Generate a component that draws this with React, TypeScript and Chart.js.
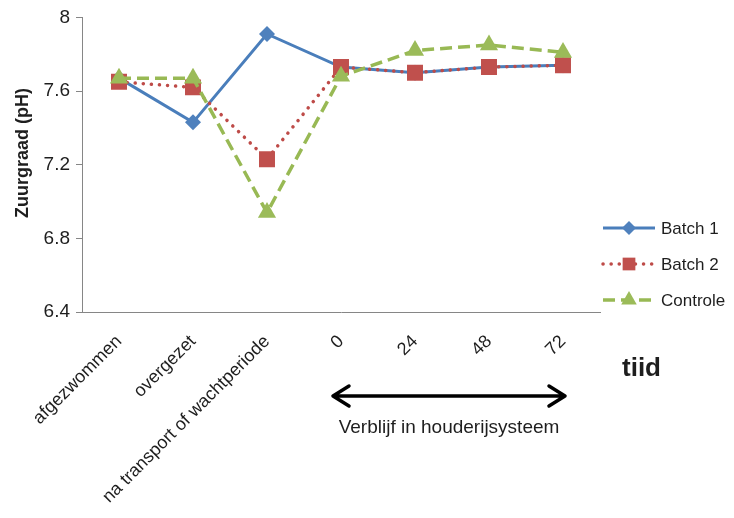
import { useEffect, useRef } from "react";
import { Chart, registerables } from "chart.js";

Chart.register(...registerables);

// Meetmomenten en zuurgraad per groep
const categories = ["afgezwommen", "overgezet", "na transport of wachtperiode", "0", "24", "48", "72"];
const batch1 = [7.67, 7.43, 7.91, 7.73, 7.7, 7.73, 7.74];
const batch2 = [7.65, 7.62, 7.23, 7.73, 7.7, 7.73, 7.74];
const controle = [7.67, 7.67, 6.94, 7.68, 7.82, 7.85, 7.81];
const yTicks = [6.4, 6.8, 7.2, 7.6, 8];

const yTitle = "Zuurgraad (pH)";
const xTitle = "tiid";
const spanCaption = "Verblijf in houderijsysteem";
const spanStart = "0";
const spanEnd = "72";

const FONT = "'Liberation Sans', Arial, sans-serif";
const AXIS = "#868686";
const TEXT = "#1e1e1e";

function drawMarker(ctx: CanvasRenderingContext2D, style: string, x: number, y: number, r: number, color: string) {
  ctx.save();
  ctx.fillStyle = color;
  ctx.beginPath();
  if (style === "rectRot") {
    ctx.moveTo(x - r, y);
    ctx.lineTo(x, y - r);
    ctx.lineTo(x + r, y);
    ctx.lineTo(x, y + r);
  } else if (style === "rect") {
    const s = r * Math.SQRT1_2;
    ctx.rect(x - s, y - s, 2 * s, 2 * s);
  } else {
    for (let k = 0; k < 3; k++) {
      const a = (k * 2 * Math.PI) / 3;
      const px = x + Math.sin(a) * r;
      const py = y - Math.cos(a) * r;
      if (k === 0) ctx.moveTo(px, py);
      else ctx.lineTo(px, py);
    }
  }
  ctx.closePath();
  ctx.fill();
  ctx.restore();
}

// Legend with line sample + marker, and the extra annotations beside/below the axes
const annotations = {
  id: "annotations",
  afterDraw(chart: any) {
    const { ctx, chartArea } = chart;
    const xs = chart.scales.x;
    ctx.save();

    // y-axis title
    ctx.save();
    ctx.translate(23, 153);
    ctx.rotate(-Math.PI / 2);
    ctx.font = `bold 18px ${FONT}`;
    ctx.fillStyle = TEXT;
    ctx.textAlign = "center";
    ctx.textBaseline = "middle";
    ctx.fillText(yTitle, 0, 0);
    ctx.restore();

    // "tiid"
    ctx.font = `bold 26px ${FONT}`;
    ctx.fillStyle = TEXT;
    ctx.textAlign = "left";
    ctx.textBaseline = "alphabetic";
    ctx.fillText(xTitle, chartArea.right + 22, 376);

    // double arrow spanning the stay period
    const i0 = categories.indexOf(spanStart);
    const i1 = categories.indexOf(spanEnd);
    const ax0 = xs.getPixelForValue(i0) - 8;
    const ax1 = xs.getPixelForValue(i1) + 2;
    const ay = 396;
    ctx.strokeStyle = "#000";
    ctx.lineWidth = 3.5;
    ctx.lineCap = "round";
    ctx.lineJoin = "round";
    ctx.beginPath();
    ctx.moveTo(ax0, ay);
    ctx.lineTo(ax1, ay);
    ctx.moveTo(ax0 + 16, ay - 10);
    ctx.lineTo(ax0, ay);
    ctx.lineTo(ax0 + 16, ay + 10);
    ctx.moveTo(ax1 - 16, ay - 10);
    ctx.lineTo(ax1, ay);
    ctx.lineTo(ax1 - 16, ay + 10);
    ctx.stroke();

    ctx.font = `19px ${FONT}`;
    ctx.textAlign = "center";
    ctx.textBaseline = "middle";
    ctx.fillText(spanCaption, (ax0 + ax1) / 2, 428);

    // legend
    const rows = [228, 264, 300];
    const lx0 = chartArea.right + 3;
    const lx1 = chartArea.right + 55;
    chart.data.datasets.forEach((ds: any, i: number) => {
      const y = rows[i];
      ctx.save();
      ctx.strokeStyle = ds.borderColor;
      ctx.lineWidth = ds.borderWidth;
      ctx.lineCap = ds.borderCapStyle || "butt";
      ctx.setLineDash(ds.borderDash || []);
      ctx.beginPath();
      ctx.moveTo(lx0, y);
      ctx.lineTo(lx1, y);
      ctx.stroke();
      ctx.restore();
      const r = ds.pointStyle === "rectRot" ? 7 : 9;
      drawMarker(ctx, ds.pointStyle, (lx0 + lx1) / 2, y, r, ds.pointBackgroundColor);
      ctx.font = `17px ${FONT}`;
      ctx.fillStyle = TEXT;
      ctx.textAlign = "left";
      ctx.textBaseline = "middle";
      ctx.fillText(ds.label, chartArea.right + 61, y + 1);
    });

    ctx.restore();
  },
};

export default function App() {
  const ref = useRef<HTMLCanvasElement | null>(null);

  useEffect(() => {
    if (!ref.current) return;
    const chart = new Chart(ref.current, {
      type: "line",
      data: {
        labels: categories,
        datasets: [
          {
            label: "Batch 1",
            data: batch1,
            borderColor: "#4A7EBB",
            backgroundColor: "#4F81BD",
            borderWidth: 3,
            pointStyle: "rectRot",
            pointRadius: 8,
            pointBackgroundColor: "#4F81BD",
            pointBorderColor: "#4F81BD",
            pointBorderWidth: 0,
            order: 2,
          },
          {
            label: "Batch 2",
            data: batch2,
            borderColor: "#BE4B48",
            backgroundColor: "#C0504D",
            borderWidth: 3.5,
            borderDash: [0.1, 8],
            borderCapStyle: "round",
            pointStyle: "rect",
            pointRadius: 11.3,
            pointBackgroundColor: "#C0504D",
            pointBorderColor: "#C0504D",
            pointBorderWidth: 0,
            order: 1,
          },
          {
            label: "Controle",
            data: controle,
            borderColor: "#98B954",
            backgroundColor: "#9BBB59",
            borderWidth: 3.5,
            borderDash: [12, 6],
            pointStyle: "triangle",
            pointRadius: 10.5,
            pointBackgroundColor: "#9BBB59",
            pointBorderColor: "#9BBB59",
            pointBorderWidth: 0,
            order: 0,
          },
        ] as any,
      },
      options: {
        animation: false,
        responsive: false,
        devicePixelRatio: 1,
        layout: { padding: { left: 0, top: 17, right: 134, bottom: 0 } },
        plugins: { legend: { display: false }, tooltip: { enabled: false } },
        elements: { line: { tension: 0 } },
        scales: {
          x: {
            type: "category",
            offset: true,
            grid: { display: false, drawTicks: false },
            border: { display: true, color: AXIS, width: 1 },
            ticks: {
              autoSkip: false,
              minRotation: 45,
              maxRotation: 45,
              padding: 19,
              labelOffset: 0,
              color: TEXT,
              font: { family: FONT, size: 18 },
            },
            afterFit: (s: any) => {
              s.height = 206;
            },
          },
          y: {
            min: 6.4,
            max: 8,
            grid: { display: true, drawOnChartArea: false, drawTicks: true, tickLength: 6, color: AXIS },
            border: { display: true, color: AXIS, width: 1 },
            ticks: {
              padding: 6,
              color: TEXT,
              font: { family: FONT, size: 19 },
              callback: (v: any) => String(Number(Number(v).toFixed(1))),
            },
            afterBuildTicks: (s: any) => {
              s.ticks = yTicks.map((v) => ({ value: v }));
            },
            afterFit: (s: any) => {
              s.width = 82;
            },
          },
        },
      } as any,
      plugins: [annotations],
    });
    return () => chart.destroy();
  }, []);

  return (
    <div style={{ position: "fixed", left: 0, top: 0, width: 734, height: 518, background: "#fff" }}>
      <canvas ref={ref} width={734} height={518} style={{ display: "block" }} />
    </div>
  );
}
